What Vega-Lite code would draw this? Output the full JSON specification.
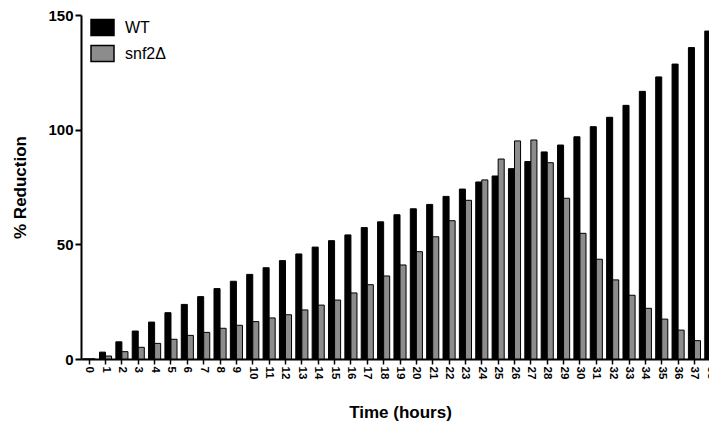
{
  "$schema": "https://vega.github.io/schema/vega-lite/v6.json",
  "autosize": "none",
  "padding": {"left": 81, "top": 15, "right": 0, "bottom": 64},
  "width": 628,
  "height": 344,
  "background": "white",
  "config": {"view": {"stroke": null}, "font": "Liberation Sans"},
  "data": {"values": [
    {"t": 0, "g": "WT", "v": 0}, {"t": 0, "g": "snf2Δ", "v": 0},
    {"t": 1, "g": "WT", "v": 3.0}, {"t": 1, "g": "snf2Δ", "v": 1.3},
    {"t": 2, "g": "WT", "v": 7.5}, {"t": 2, "g": "snf2Δ", "v": 3.2},
    {"t": 3, "g": "WT", "v": 12.2}, {"t": 3, "g": "snf2Δ", "v": 5.1},
    {"t": 4, "g": "WT", "v": 16.1}, {"t": 4, "g": "snf2Δ", "v": 6.8},
    {"t": 5, "g": "WT", "v": 20.2}, {"t": 5, "g": "snf2Δ", "v": 8.6},
    {"t": 6, "g": "WT", "v": 23.8}, {"t": 6, "g": "snf2Δ", "v": 10.3},
    {"t": 7, "g": "WT", "v": 27.2}, {"t": 7, "g": "snf2Δ", "v": 11.6},
    {"t": 8, "g": "WT", "v": 30.7}, {"t": 8, "g": "snf2Δ", "v": 13.4},
    {"t": 9, "g": "WT", "v": 33.9}, {"t": 9, "g": "snf2Δ", "v": 14.7},
    {"t": 10, "g": "WT", "v": 36.9}, {"t": 10, "g": "snf2Δ", "v": 16.3},
    {"t": 11, "g": "WT", "v": 39.8}, {"t": 11, "g": "snf2Δ", "v": 17.9},
    {"t": 12, "g": "WT", "v": 42.9}, {"t": 12, "g": "snf2Δ", "v": 19.3},
    {"t": 13, "g": "WT", "v": 45.8}, {"t": 13, "g": "snf2Δ", "v": 21.4},
    {"t": 14, "g": "WT", "v": 48.8}, {"t": 14, "g": "snf2Δ", "v": 23.5},
    {"t": 15, "g": "WT", "v": 51.6}, {"t": 15, "g": "snf2Δ", "v": 25.7},
    {"t": 16, "g": "WT", "v": 54.1}, {"t": 16, "g": "snf2Δ", "v": 28.8},
    {"t": 17, "g": "WT", "v": 57.3}, {"t": 17, "g": "snf2Δ", "v": 32.4},
    {"t": 18, "g": "WT", "v": 59.8}, {"t": 18, "g": "snf2Δ", "v": 36.2},
    {"t": 19, "g": "WT", "v": 62.9}, {"t": 19, "g": "snf2Δ", "v": 41.0},
    {"t": 20, "g": "WT", "v": 65.5}, {"t": 20, "g": "snf2Δ", "v": 46.8},
    {"t": 21, "g": "WT", "v": 67.4}, {"t": 21, "g": "snf2Δ", "v": 53.3},
    {"t": 22, "g": "WT", "v": 70.9}, {"t": 22, "g": "snf2Δ", "v": 60.3},
    {"t": 23, "g": "WT", "v": 74.1}, {"t": 23, "g": "snf2Δ", "v": 69.2},
    {"t": 24, "g": "WT", "v": 77.2}, {"t": 24, "g": "snf2Δ", "v": 78.1},
    {"t": 25, "g": "WT", "v": 79.8}, {"t": 25, "g": "snf2Δ", "v": 87.2},
    {"t": 26, "g": "WT", "v": 83.0}, {"t": 26, "g": "snf2Δ", "v": 95.1},
    {"t": 27, "g": "WT", "v": 86.1}, {"t": 27, "g": "snf2Δ", "v": 95.5},
    {"t": 28, "g": "WT", "v": 90.3}, {"t": 28, "g": "snf2Δ", "v": 85.6},
    {"t": 29, "g": "WT", "v": 93.3}, {"t": 29, "g": "snf2Δ", "v": 70.1},
    {"t": 30, "g": "WT", "v": 96.9}, {"t": 30, "g": "snf2Δ", "v": 54.8},
    {"t": 31, "g": "WT", "v": 101.3}, {"t": 31, "g": "snf2Δ", "v": 43.5},
    {"t": 32, "g": "WT", "v": 105.4}, {"t": 32, "g": "snf2Δ", "v": 34.5},
    {"t": 33, "g": "WT", "v": 110.6}, {"t": 33, "g": "snf2Δ", "v": 27.8},
    {"t": 34, "g": "WT", "v": 116.7}, {"t": 34, "g": "snf2Δ", "v": 22.1},
    {"t": 35, "g": "WT", "v": 123.0}, {"t": 35, "g": "snf2Δ", "v": 17.4},
    {"t": 36, "g": "WT", "v": 128.6}, {"t": 36, "g": "snf2Δ", "v": 12.6},
    {"t": 37, "g": "WT", "v": 135.8}, {"t": 37, "g": "snf2Δ", "v": 8.0},
    {"t": 38, "g": "WT", "v": 143.0}, {"t": 38, "g": "snf2Δ", "v": 4.0}
  ]},
  "mark": {"type": "bar", "stroke": "#000000", "strokeWidth": 1, "clip": true},
  "encoding": {
    "x": {
      "field": "t", "type": "ordinal",
      "scale": {"range": [0, 638], "paddingInner": 0.26, "paddingOuter": 0.13},
      "axis": {
        "title": "Time (hours)", "titleFontSize": 17, "titleFontWeight": "bold", "titleColor": "#000", "titlePadding": 26,
        "labelAngle": 90, "labelFontSize": 11.5, "labelFontWeight": "bold", "labelColor": "#000", "labelPadding": 2,
        "tickSize": 5, "tickWidth": 1.5, "tickColor": "#000",
        "domainColor": "#000", "domainWidth": 2
      }
    },
    "xOffset": {"field": "g", "type": "nominal", "sort": ["WT", "snf2Δ"]},
    "y": {
      "field": "v", "type": "quantitative",
      "scale": {"domain": [0, 150], "nice": false},
      "axis": {
        "title": "% Reduction", "titleFontSize": 17, "titleFontWeight": "bold", "titleColor": "#000", "titlePadding": 18,
        "values": [0, 50, 100, 150], "grid": false,
        "labelFontSize": 15, "labelFontWeight": "bold", "labelColor": "#000", "labelPadding": 2,
        "tickSize": 6, "tickWidth": 2, "tickColor": "#000",
        "domainColor": "#000", "domainWidth": 2
      }
    },
    "color": {
      "field": "g", "type": "nominal", "sort": ["WT", "snf2Δ"],
      "scale": {"domain": ["WT", "snf2Δ"], "range": ["#000000", "#8c8c8c"]},
      "legend": {
        "title": null, "orient": "none", "legendX": 9, "legendY": 0,
        "symbolType": "M-1,-0.7H1V0.7H-1Z", "symbolSize": 529,
        "symbolStrokeColor": "#000", "symbolStrokeWidth": 1.5, "symbolOpacity": 1,
        "labelFontSize": 16, "labelColor": "#000", "labelOffset": 10, "rowPadding": 2
      }
    }
  }
}
